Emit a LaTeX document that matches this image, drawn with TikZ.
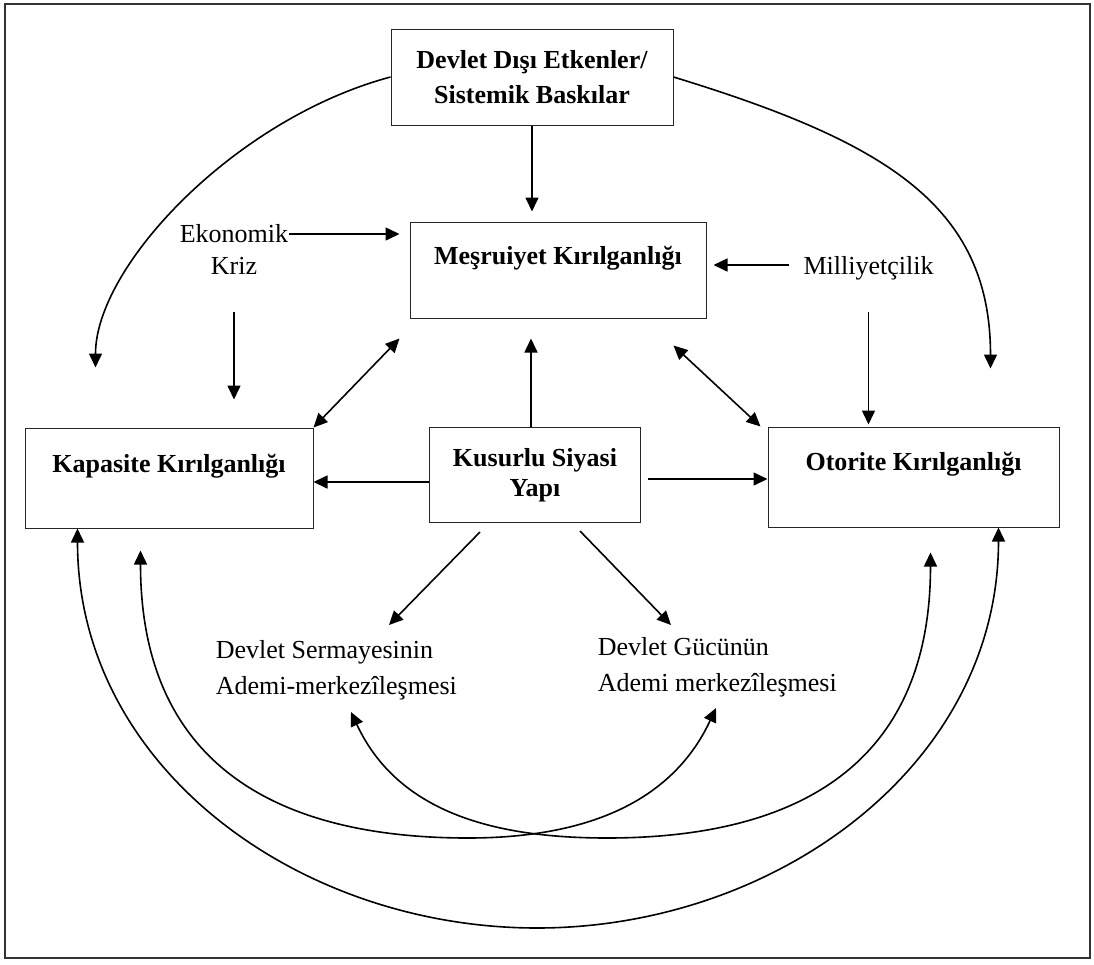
\documentclass[tikz,border=0pt]{standalone}
\usepackage{fontspec}
\setmainfont{Liberation Serif}
\usepackage{tikz}
\usetikzlibrary{arrows.meta}
\tikzset{
    box/.style={shape=rectangle, draw=black!85, line width=0.5pt, align=center,
        font=\fontsize{13pt}{15pt}\selectfont\bfseries},
    lbl/.style={inner sep=0pt, font=\fontsize{13pt}{18pt}\selectfont},
    >={Triangle[length=7pt,width=6.5pt]}}

\begin{document}
\begin{tikzpicture}[x=0.5pt, y=0.5pt, line width=0.8pt]

    \useasboundingbox (0,0) rectangle (1094,-965);
    \draw[draw=black!80] (5,-4) rectangle (1090,-958);

    \node[box, minimum width=141pt, minimum height=48pt] (D) at (532,-77) {Devlet Dışı Etkenler/\\[2.5pt]Sistemik Baskılar};
    \node[box, minimum width=148pt, minimum height=48pt, text height=9pt, text depth=14.5pt] (M) at (558,-270) {Meşruiyet Kırılganlığı};
    \node[box, minimum width=144pt, minimum height=50pt, text height=9pt, text depth=14.5pt] (K) at (169,-478) {Kapasite Kırılganlığı};
    \node[box, minimum width=105.5pt, minimum height=47.5pt] (S) at (535,-475) {Kusurlu Siyasi\\Yapı};
    \node[box, minimum width=145.5pt, minimum height=50pt, text height=9pt, text depth=16pt] (O) at (913.5,-477) {Otorite Kırılganlığı};

    \node[lbl] (E1) at (234,-234) {Ekonomik};
    \node[lbl] (E2) at (234,-266) {Kriz};
    \node[lbl, text depth=0pt] (N) at (868.5,-265) {Milliyetçilik};
    \node[lbl, align=left, anchor=north west] (Sr) at (215,-640) {Devlet Sermayesinin\\Ademi-merkezîleşmesi};
    \node[lbl, align=left, anchor=north west] (G) at (597,-637) {Devlet Gücünün\\Ademi merkezîleşmesi};

    \coordinate (s1) at ([yshift=-3.5pt]S.west);
    \coordinate (s2) at ([yshift=-2pt]S.east);

    \draw[->, shorten >=5pt] (D.south) -- (D.south |- M.north);
    \draw[->, shorten >=5pt] (E1.east) -- (E1.east -| M.west);
    \draw[->, shorten <=18.5pt, shorten >=14pt] (E2.south) -- (E2.south |- K.north);
    \draw[->, shorten <=7pt, shorten >=3.5pt] (N.west) -- (N.west -| M.east);
    \draw[->, shorten <=18.5pt, shorten >=1pt] (N.south) -- (N.south |- O.north);
    \draw[->, shorten >=10pt] ([xshift=-2pt]S.north) -- ([xshift=-2pt]S.north |- M.south);
    \draw[<->] (K.north east) -- ([xshift=-5pt,yshift=-10pt]M.south west);
    \draw[<->] ([xshift=-16.5pt,yshift=-13.5pt]M.south east) -- ([xshift=-3.5pt]O.north west);
    \draw[->] (s1) -- (s1 -| K.east);
    \draw[->, shorten <=3.5pt] (s2) -- (s2 -| O.west);
    \draw[->] ([xshift=-27.5pt,yshift=-4.5pt]S.south) -- ([xshift=87pt,yshift=7.5pt]Sr.north west);
    \draw[->] ([xshift=22.5pt,yshift=-4pt]S.south) -- ([xshift=37pt,yshift=6pt]G.north west);

    \draw[->, shorten >=30pt] (D.west) to[out=195, in=90, looseness=0.9] ([xshift=35.5pt]K.north west);
    \draw[->, shorten >=29pt] (D.east) to[out=-17, in=90, looseness=1.2] ([xshift=-34.5pt]O.north east);

    \draw[<->] ([xshift=26.5pt]K.south west) to[out=-90, in=180] (537,-928) to[out=0, in=-90] ([xshift=-30.5pt]O.south east);
    \draw[<->] ([xshift=58pt,yshift=-11pt]K.south west) to[out=-90, in=180, looseness=1.2] (468,-838) to[out=0, in=-115] ([xshift=59.5pt,yshift=-35.5pt]G.north west);
    \draw[<->] ([xshift=68pt,yshift=-36pt]Sr.north west) to[out=-65, in=180] (607,-838) to[out=0, in=-90, looseness=1.2] ([xshift=-64.5pt,yshift=-12.5pt]O.south east);

\end{tikzpicture}
\end{document}
